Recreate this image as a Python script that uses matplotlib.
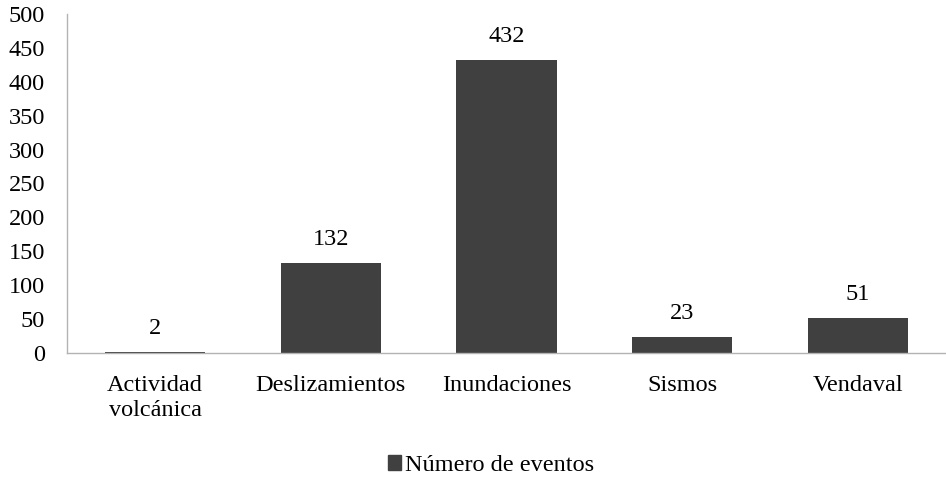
import matplotlib
matplotlib.use('Agg')
from matplotlib import pyplot as plt
from matplotlib.patches import Patch

categories = ['Actividad\nvolcánica', 'Deslizamientos', 'Inundaciones', 'Sismos', 'Vendaval']
eventos = [2, 132, 432, 23, 51]
yticks = [0, 50, 100, 150, 200, 250, 300, 350, 400, 450, 500]

plt.rcParams['font.family'] = ['Liberation Serif', 'DejaVu Serif']
plt.rcParams['font.size'] = 17.5

fig = plt.figure(figsize=(9.46, 4.79), dpi=100)
ax = fig.add_axes([0.071, 0.263, 0.929, 0.708])

bar_color = '#404040'
bars = ax.bar(range(len(categories)), eventos, width=0.57, color=bar_color)
for rect, v in zip(bars, eventos):
    ax.annotate(str(v), (rect.get_x() + rect.get_width() / 2, v),
                xytext=(0, 17), textcoords='offset points',
                ha='center', va='center')

ax.set_xlim(-0.5, len(categories) - 0.5)
ax.set_ylim(0, 500)
ax.set_yticks(yticks)
ax.set_xticks(range(len(categories)))
ax.set_xticklabels(categories, linespacing=1.25)
ax.tick_params(length=0)
ax.tick_params(axis='x', pad=16)
ax.tick_params(axis='y', pad=16)

for s in ['top', 'right']:
    ax.spines[s].set_visible(False)
for s in ['left', 'bottom']:
    ax.spines[s].set_color('#b3b3b3')
    ax.spines[s].set_linewidth(1.0)

fig.legend(handles=[Patch(color=bar_color, label='Número de eventos')],
           loc='center', bbox_to_anchor=(0.519, 0.028), frameon=False,
           handlelength=0.55, handleheight=0.55, handletextpad=0.15)

fig.savefig('out.png', dpi=100)
